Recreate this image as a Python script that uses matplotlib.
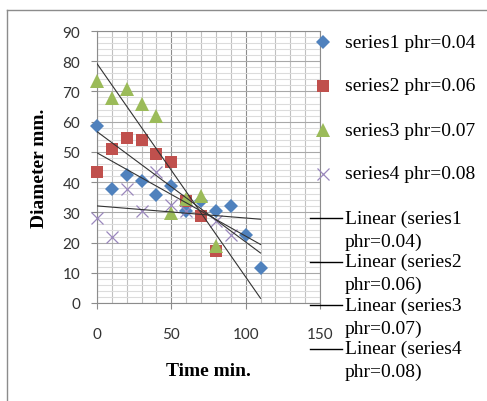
import numpy as np
import matplotlib
matplotlib.use("Agg")
import matplotlib.pyplot as plt
from matplotlib.lines import Line2D

# data
x1 = [0, 10, 20, 30, 40, 50, 60, 70, 80, 90, 100, 110]
y1 = [58.5, 37.7, 42.2, 40.5, 35.8, 38.6, 30.6, 33.9, 30.6, 32.0, 22.5, 11.5]
x2 = [0, 10, 20, 30, 40, 50, 60, 70, 80]
y2 = [43.3, 51.0, 54.6, 54.0, 49.3, 46.6, 33.9, 28.9, 17.3]
x3 = [0, 10, 20, 30, 40, 50, 60, 70, 80]
y3 = [73.4, 67.9, 70.9, 65.7, 62.0, 29.8, 34.5, 35.5, 19.0]
x4 = [0, 10, 20, 30, 40, 50, 60, 80, 90]
y4 = [28.0, 21.8, 37.7, 30.6, 43.3, 32.5, 30.5, 27.0, 22.5]

labels = ["series1 phr=0.04", "series2 phr=0.06", "series3 phr=0.07", "series4 phr=0.08"]
trend_labels = ["Linear (series1\nphr=0.04)", "Linear (series2\nphr=0.06)",
                "Linear (series3\nphr=0.07)", "Linear (series4\nphr=0.08)"]

colors = ["#4F81BD", "#C0504D", "#9BBB59", "#9A87BD"]
markers = ["D", "s", "^", "x"]
msizes = [7.5, 9, 9.5, 9]

W, H = 487, 402
fig = plt.figure(figsize=(W / 100, H / 100), dpi=100)

def fx(px):
    return px / W

def fy(py):
    return 1 - py / H

ax = fig.add_axes([fx(97), fy(304), fx(320) - fx(97), fy(32) - fy(304)])

xs = [x1, x2, x3, x4]
ys = [y1, y2, y3, y4]
x_end = max(x1)
for i in range(4):
    ax.plot(xs[i], ys[i], linestyle="none", marker=markers[i], ms=msizes[i],
            color=colors[i], mew=0.9 if markers[i] == "x" else 0, zorder=3,
            clip_on=False)
for i in range(4):
    k, b = np.polyfit(xs[i], ys[i], 1)
    xx = np.array([0, x_end])
    ax.plot(xx, k * xx + b, color="#333333", lw=0.8, zorder=4)

ax.set_xlim(0, 150)
ax.set_ylim(0, 90)
ax.set_xticks([0, 50, 100, 150])
ax.set_xticks(np.arange(0, 151, 10), minor=True)
ax.set_yticks(np.arange(0, 91, 10))
ax.set_yticks(np.arange(0, 91, 2), minor=True)

ax.grid(which="minor", axis="y", color="#DCDCDC", lw=0.8)
ax.grid(which="major", axis="y", color="#A8A8A8", lw=0.8)
ax.grid(which="minor", axis="x", color="#C0C0C0", lw=0.8)
ax.grid(which="major", axis="x", color="#8C8C8C", lw=0.8)
ax.set_axisbelow(True)

for s in ax.spines.values():
    s.set_color("#8C8C8C")
    s.set_linewidth(0.8)

ax.tick_params(which="minor", length=0)
ax.tick_params(axis="y", which="major", length=4, width=0.8, color="#8C8C8C", pad=8)
ax.tick_params(axis="x", which="major", length=4, width=0.8, color="#8C8C8C", pad=13)
for t in ax.get_xticklabels() + ax.get_yticklabels():
    t.set_fontfamily("Lato")
    t.set_fontsize(11)
    t.set_color("#333333")

fig.text(fx(40), fy(168), "Diameter mm.", rotation=90, ha="center", va="center",
         family="Liberation Serif", weight="bold", fontsize=14)
fig.text(fx(208), fy(372), "Time min.", ha="center", va="center",
         family="Liberation Serif", weight="bold", fontsize=14)

# legend drawn by hand to match layout
for i in range(4):
    yy = 43 + 44 * i
    fig.add_artist(Line2D([fx(323)], [fy(yy)], marker=markers[i], ms=msizes[i],
                          color=colors[i], mew=0.9 if markers[i] == "x" else 0,
                          linestyle="none"))
    fig.text(fx(345), fy(yy), labels[i], ha="left", va="center",
             family="Liberation Serif", fontsize=14)
for i in range(4):
    yy = 219 + 43.5 * i
    fig.add_artist(Line2D([fx(310), fx(342)], [fy(yy), fy(yy)], color="black", lw=1))
    fig.text(fx(345), fy(yy), trend_labels[i].split("\n")[0], ha="left", va="center",
             family="Liberation Serif", fontsize=14)
    fig.text(fx(345), fy(yy + 23), trend_labels[i].split("\n")[1], ha="left", va="center",
             family="Liberation Serif", fontsize=14)

# chart border (left and top visible)
fig.add_artist(Line2D([fx(7), fx(7)], [fy(11), 0], color="#8C8C8C", lw=1))
fig.add_artist(Line2D([fx(7), 1], [fy(11), fy(11)], color="#8C8C8C", lw=1))

fig.savefig("out.png", dpi=100)
